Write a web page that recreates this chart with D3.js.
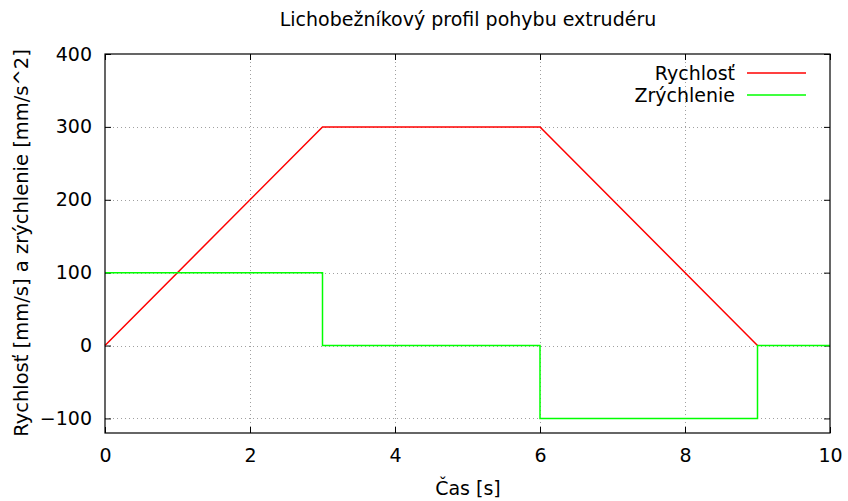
<!DOCTYPE html>
<html><head><meta charset="utf-8">
<script src="https://cdn.jsdelivr.net/npm/d3@7"></script>
<style>body{margin:0;background:#fff}svg{display:block}text{font-family:"DejaVu Sans",sans-serif;fill:#000}</style>
</head><body><svg id="c" width="848" height="501"></svg>
<script>
const title = "Lichobežníkový profil pohybu extrudéru";
const xLabel = "Čas [s]";
const yLabel = "Rychlosť [mm/s] a zrýchlenie  [mm/s^2]";
const seriesNames = ["Rychlosť", "Zrýchlenie"];
const seriesColors = ["#ff0000", "#00ff00"];
const velT = [0, 3, 6, 9];
const velV = [0, 300, 300, 0];
const accT = [0, 3, 3, 6, 6, 9, 9, 10];
const accV = [100, 100, 0, 0, -100, -100, 0, 0];
const xTicks = [0, 2, 4, 6, 8, 10];
const yTicks = [-100, 0, 100, 200, 300, 400];

const FS = 19;
const svg = d3.select("#c");
const L = 105, R = 830, T = 54, B = 433;
const x = d3.scaleLinear().domain([0, 10]).range([L, R]);
const y = d3.scaleLinear().domain([-120, 400]).range([B, T]);

// grid
const g = svg.append("g").attr("stroke", "#a0a0a0").attr("stroke-width", 1).attr("stroke-dasharray", "1,3");
xTicks.filter(d => d > 0 && d < 10).forEach(d => g.append("line").attr("x1", x(d)+0.5).attr("x2", x(d)+0.5).attr("y1", T).attr("y2", B));
yTicks.filter(d => d < 400).forEach(d => g.append("line").attr("x1", L).attr("x2", R).attr("y1", Math.round(y(d))+0.5).attr("y2", Math.round(y(d))+0.5));

// axes with inward ticks
const ax = svg.append("g");
const xa = ax.append("g").attr("transform", `translate(0,${B})`).call(d3.axisBottom(x).tickValues(xTicks).tickSizeInner(-6).tickSizeOuter(0).tickPadding(0));
ax.append("g").attr("transform", `translate(0,${T})`).call(d3.axisTop(x).tickValues(xTicks).tickSizeInner(-6).tickSizeOuter(0).tickFormat(""));
const ya = ax.append("g").attr("transform", `translate(${L},0)`).call(d3.axisLeft(y).tickValues(yTicks).tickSizeInner(-6).tickSizeOuter(0).tickPadding(13));
ax.append("g").attr("transform", `translate(${R},0)`).call(d3.axisRight(y).tickValues(yTicks).tickSizeInner(-6).tickSizeOuter(0).tickFormat(""));
ax.selectAll(".domain").remove();
ax.selectAll("line").attr("stroke", "#000");
ax.selectAll("text").attr("font-family", "DejaVu Sans").attr("font-size", FS).attr("fill", "#000");
xa.selectAll("text").attr("y", 29).attr("dy", null);

// data lines
const line = d3.line().x(d => x(d[0])).y(d => y(d[1]));
const velData = velT.map((t, i) => [t, velV[i]]);
const accData = accT.map((t, i) => [t, accV[i]]);
svg.append("path").datum(velData).attr("d", line).attr("fill", "none").attr("stroke", seriesColors[0]).attr("stroke-width", 1.5);
svg.append("path").datum(accData).attr("d", line).attr("fill", "none").attr("stroke", seriesColors[1]).attr("stroke-width", 1.5);

// border
svg.append("rect").attr("x", L).attr("y", T).attr("width", R - L).attr("height", B - T)
  .attr("fill", "none").attr("stroke", "#000").attr("stroke-width", 1.2);

// legend
seriesNames.forEach((n, i) => {
  const yy = 73 + i * 22;
  svg.append("text").attr("x", 735).attr("y", yy + 7).attr("text-anchor", "end").attr("font-size", FS).text(n);
  svg.append("line").attr("x1", 747).attr("x2", 806).attr("y1", yy).attr("y2", yy).attr("stroke", seriesColors[i]).attr("stroke-width", 1.5);
});

// titles
svg.append("text").attr("x", 468).attr("y", 26).attr("text-anchor", "middle").attr("font-size", FS).text(title);
svg.append("text").attr("x", 468).attr("y", 495).attr("text-anchor", "middle").attr("font-size", FS).text(xLabel);
svg.append("text").attr("transform", `translate(28,243) rotate(-90)`).attr("text-anchor", "middle").attr("font-size", 19.5).text(yLabel);
</script></body></html>
